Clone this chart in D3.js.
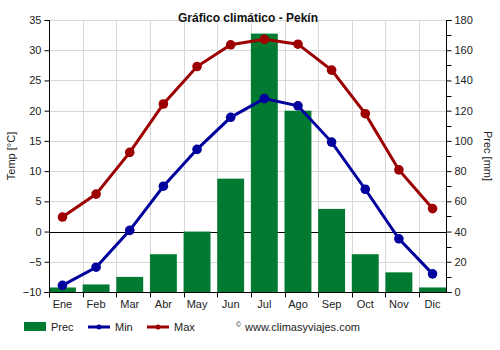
<!DOCTYPE html>
<html>
<head>
<meta charset="utf-8">
<script src="https://cdn.jsdelivr.net/npm/d3@7"></script>
<style>
  html, body { margin: 0; padding: 0; background: #fff; }
  svg { display: block; font-family: "Liberation Sans", Arial, sans-serif; }
</style>
</head>
<body>
<svg id="chart" width="500" height="350"></svg>
<script>
// Monthly climate data for Beijing
const months = ["Ene", "Feb", "Mar", "Abr", "May", "Jun", "Jul", "Ago", "Sep", "Oct", "Nov", "Dic"];
const precip = [3, 5, 10, 25, 40, 75, 171, 120, 55, 25, 13, 3];
const tempMin = [-8.9, -5.9, 0.2, 7.5, 13.6, 18.9, 22.0, 20.8, 14.8, 7.0, -1.2, -7.0];
const tempMax = [2.4, 6.2, 13.1, 21.1, 27.3, 30.9, 31.8, 31.0, 26.7, 19.5, 10.2, 3.8];
const tempTicks = [-10, -5, 0, 5, 10, 15, 20, 25, 30, 35];
const precTicks = [0, 20, 40, 60, 80, 100, 120, 140, 160, 180];
const precMinorTicks = [10, 30, 50, 70, 90, 110, 130, 150, 170];

const colors = { prec: "#037a31", min: "#00009c", max: "#9c0000", grid: "#d8d8d8", text: "#222" };

const svg = d3.select("#chart");
const plotL = 49, plotR = 446, plotT = 20, plotB = 292;

const x = d3.scaleBand().domain(months).range([plotL, plotR]).paddingInner(0.2).paddingOuter(0).align(0);
const yT = d3.scaleLinear().domain([-10, 35]).range([plotB, plotT]);
const yP = d3.scaleLinear().domain([0, 180]).range([plotB, plotT]);
const cx = m => x(m) + x.bandwidth() / 2;

// grid
const grid = svg.append("g");
grid.selectAll("line.h").data(tempTicks.filter(t => t !== 0 && t !== -10)).join("line")
  .attr("x1", plotL).attr("x2", plotR).attr("y1", d => Math.round(yT(d)) + 0.5).attr("y2", d => Math.round(yT(d)) + 0.5)
  .attr("stroke", colors.grid).attr("stroke-width", 1);
grid.selectAll("line.v").data(months.slice(1)).join("line")
  .attr("x1", d => Math.round(x(d)) + 0.5).attr("x2", d => Math.round(x(d)) + 0.5)
  .attr("y1", plotT).attr("y2", plotB)
  .attr("stroke", colors.grid).attr("stroke-width", 1);

// zero line
svg.append("line").attr("x1", plotL).attr("x2", plotR)
  .attr("y1", Math.round(yT(0)) + 0.5).attr("y2", Math.round(yT(0)) + 0.5)
  .attr("stroke", "#000").attr("stroke-width", 1);

// precipitation bars
svg.append("g").selectAll("rect").data(precip).join("rect")
  .attr("x", (d, i) => x(months[i]))
  .attr("width", x.bandwidth())
  .attr("y", d => yP(d))
  .attr("height", d => yP(0) - yP(d))
  .attr("fill", colors.prec);

// temperature lines
function drawSeries(values, color) {
  const line = d3.line().x((d, i) => cx(months[i])).y(d => yT(d));
  svg.append("path").datum(values).attr("d", line)
    .attr("fill", "none").attr("stroke", color).attr("stroke-width", 3);
  svg.append("g").selectAll("circle").data(values).join("circle")
    .attr("cx", (d, i) => cx(months[i])).attr("cy", d => yT(d)).attr("r", 4.8)
    .attr("fill", color);
}
drawSeries(tempMax, colors.max);
drawSeries(tempMin, colors.min);

// left axis
const axL = svg.append("g").attr("transform", `translate(${plotL + 0.5},0)`)
  .call(d3.axisLeft(yT).tickValues(tempTicks).tickSize(5).tickPadding(3));
axL.select(".domain").attr("d", `M-5,${plotT + 0.5}H0V${plotB + 0.5}H-5`).attr("stroke", "#000");
axL.selectAll("line").attr("stroke", "#000");
axL.selectAll("text").attr("font-size", 11).attr("fill", colors.text).attr("font-family", "Liberation Sans, Arial, sans-serif");

// right axis
const axR = svg.append("g").attr("transform", `translate(${plotR + 0.5},0)`)
  .call(d3.axisRight(yP).tickValues(precTicks).tickSize(5).tickPadding(3));
axR.select(".domain").attr("d", `M5,${plotT + 0.5}H0V${plotB + 0.5}H5`).attr("stroke", "#000");
axR.selectAll("line").attr("stroke", "#000");
axR.selectAll("text").attr("font-size", 11).attr("fill", colors.text).attr("font-family", "Liberation Sans, Arial, sans-serif");
axR.append("g").selectAll("line").data(precMinorTicks).join("line")
  .attr("x1", 0).attr("x2", 5).attr("y1", d => Math.round(yP(d)) + 0.5).attr("y2", d => Math.round(yP(d)) + 0.5)
  .attr("stroke", "#000");

// bottom axis
const axB = svg.append("g").attr("transform", `translate(0,${plotB + 0.5})`);
axB.append("line").attr("x1", plotL).attr("x2", plotR + 1).attr("y1", 0).attr("y2", 0).attr("stroke", "#000");
axB.selectAll("line.t").data(months).join("line")
  .attr("x1", d => Math.round(x(d)) + 0.5).attr("x2", d => Math.round(x(d)) + 0.5)
  .attr("y1", 0).attr("y2", 5).attr("stroke", "#000");
axB.selectAll("text").data(months).join("text")
  .attr("x", d => cx(d)).attr("y", 15).attr("text-anchor", "middle")
  .attr("font-size", 11).attr("fill", colors.text).text(d => d);

// titles
svg.append("text").attr("x", 248).attr("y", 22).attr("text-anchor", "middle")
  .attr("font-size", 12).attr("font-weight", "bold").attr("fill", "#111")
  .text("Gráfico climático - Pekín");
svg.append("text").attr("transform", `translate(15,${(plotT + plotB) / 2}) rotate(-90)`)
  .attr("text-anchor", "middle").attr("font-size", 11).attr("fill", colors.text).text("Temp [°C]");
svg.append("text").attr("transform", `translate(484,${(plotT + plotB) / 2}) rotate(90)`)
  .attr("text-anchor", "middle").attr("font-size", 11).attr("fill", colors.text).text("Prec [mm]");

// legend
const lg = svg.append("g").attr("transform", "translate(0,327)");
lg.append("rect").attr("x", 24).attr("y", -5).attr("width", 22).attr("height", 9).attr("fill", colors.prec);
lg.append("text").attr("x", 51).attr("y", 4).attr("font-size", 11).attr("fill", colors.text).text("Prec");
[[88, "Min", colors.min], [147, "Max", colors.max]].forEach(([lx, label, c]) => {
  lg.append("line").attr("x1", lx).attr("x2", lx + 22).attr("y1", 0).attr("y2", 0).attr("stroke", c).attr("stroke-width", 3);
  lg.append("circle").attr("cx", lx + 11).attr("cy", 0).attr("r", 2.5).attr("fill", c);
  lg.append("text").attr("x", lx + 27).attr("y", 4).attr("font-size", 11).attr("fill", colors.text).text(label);
});
lg.append("text").attr("x", 236).attr("y", 0).attr("font-size", 7).attr("fill", colors.text).text("©");
lg.append("text").attr("x", 245).attr("y", 4).attr("font-size", 11).attr("fill", colors.text).text("www.climasyviajes.com");
</script>
</body>
</html>
